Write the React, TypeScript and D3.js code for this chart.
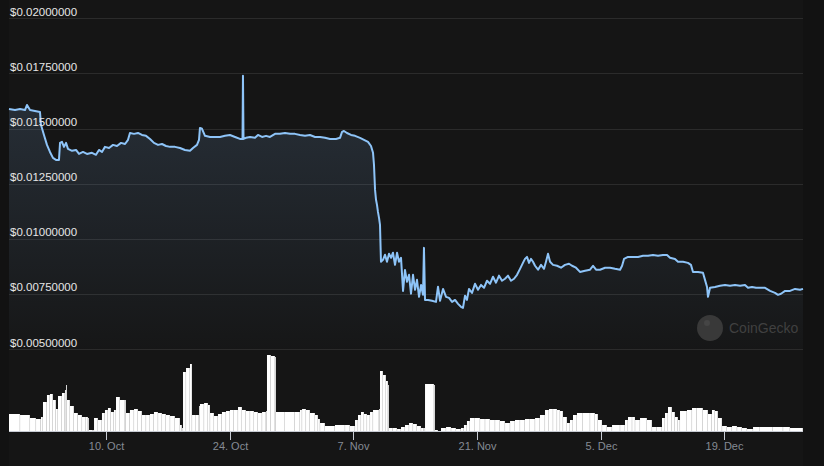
import React from "react";
import * as d3 from "d3";

const START = new Date(2022, 8, 29);

// [day offset from START, price in USD]
const PRICE: [number, number][] = [
  [0, 0.01589], [0.68, 0.01584], [1.25, 0.01589], [1.81, 0.01584], [2.04, 0.01607], [2.38, 0.01584],
  [2.94, 0.0158], [3.51, 0.01575], [3.62, 0.01517], [3.96, 0.01471], [4.3, 0.01426], [4.64, 0.01394],
  [4.98, 0.01367], [5.32, 0.01358], [5.66, 0.01358], [5.78, 0.01435], [6.0, 0.0144], [6.23, 0.01417],
  [6.46, 0.01435], [6.68, 0.01408], [7.14, 0.01399], [7.59, 0.01403], [7.93, 0.01385], [8.38, 0.01394],
  [8.83, 0.01385], [9.4, 0.0139], [9.85, 0.01381], [10.19, 0.01403], [10.53, 0.01394], [10.87, 0.01417],
  [11.33, 0.01412], [11.78, 0.01426], [12.23, 0.01421], [12.69, 0.01435], [13.14, 0.0143], [13.48, 0.01449],
  [13.7, 0.0148], [14.16, 0.01476], [14.61, 0.0148], [15.06, 0.01471], [15.52, 0.01467], [15.97, 0.01453],
  [16.42, 0.01435], [16.88, 0.01426], [17.33, 0.0143], [17.78, 0.01421], [18.24, 0.01417], [18.8, 0.01417],
  [19.37, 0.01412], [19.93, 0.01403], [20.5, 0.01399], [20.84, 0.01412], [21.29, 0.01426], [21.52, 0.01449],
  [21.63, 0.01503], [21.86, 0.01499], [22.2, 0.01467], [22.77, 0.01462], [23.33, 0.01462], [23.9, 0.01462],
  [24.46, 0.01467], [25.03, 0.01471], [25.6, 0.01462], [26.16, 0.01453], [26.45, 0.01453], [26.5, 0.01739],
  [26.56, 0.01453], [26.84, 0.01458], [27.3, 0.01462], [27.86, 0.01458], [28.2, 0.01471], [28.66, 0.01462],
  [29.11, 0.01467], [29.56, 0.01462], [30.13, 0.01476], [30.69, 0.01476], [31.26, 0.0148], [31.83, 0.01476],
  [32.39, 0.01476], [32.96, 0.01471], [33.53, 0.01467], [34.09, 0.01471], [34.66, 0.01462], [35.23, 0.01462],
  [35.79, 0.01458], [36.36, 0.01453], [37.04, 0.01453], [37.49, 0.01458], [37.72, 0.01485], [37.94, 0.01489],
  [38.28, 0.0148], [38.74, 0.01471], [39.19, 0.01467], [39.76, 0.01458], [40.21, 0.01449], [40.66, 0.0144],
  [41.0, 0.01421], [41.23, 0.0139], [41.34, 0.01335], [41.46, 0.01222], [41.57, 0.01177], [41.68, 0.01154],
  [41.79, 0.01122], [41.91, 0.01095], [42.02, 0.01063], [42.13, 0.00896], [42.36, 0.00905], [42.59, 0.00928],
  [42.81, 0.00896], [43.04, 0.00932], [43.27, 0.00914], [43.49, 0.00937], [43.72, 0.00882], [43.95, 0.00937],
  [44.17, 0.00896], [44.4, 0.00914], [44.63, 0.00764], [44.85, 0.00859], [45.08, 0.00805], [45.31, 0.00837],
  [45.53, 0.00751], [45.76, 0.00837], [45.99, 0.00769], [46.21, 0.00814], [46.44, 0.00737], [46.67, 0.00791],
  [46.89, 0.00746], [47.0, 0.00959], [47.12, 0.00723], [47.46, 0.00723], [47.91, 0.00719], [48.36, 0.00714],
  [48.59, 0.00783], [48.82, 0.00719], [49.16, 0.00773], [49.5, 0.00737], [49.84, 0.00732], [50.18, 0.00714],
  [50.52, 0.00723], [50.86, 0.00705], [51.19, 0.00692], [51.42, 0.00687], [51.65, 0.00742], [51.87, 0.00723],
  [52.1, 0.00773], [52.44, 0.00755], [52.78, 0.00796], [53.12, 0.00769], [53.46, 0.00791], [53.8, 0.00778],
  [54.14, 0.0081], [54.48, 0.00796], [54.82, 0.00828], [55.16, 0.00801], [55.5, 0.00833], [55.84, 0.0081],
  [56.18, 0.00819], [56.52, 0.00833], [56.86, 0.0081], [57.2, 0.00819], [57.54, 0.00837], [57.88, 0.00864],
  [58.21, 0.00891], [58.44, 0.00909], [58.67, 0.00918], [58.9, 0.00891], [59.12, 0.00909], [59.35, 0.00896],
  [59.58, 0.00878], [59.92, 0.0086], [60.26, 0.00882], [60.6, 0.00864], [60.82, 0.00896], [61.05, 0.00932],
  [61.28, 0.00896], [61.62, 0.00882], [62.07, 0.00878], [62.52, 0.00869], [62.97, 0.00882], [63.43, 0.00887],
  [63.77, 0.00878], [64.22, 0.00869], [64.67, 0.0085], [65.24, 0.00855], [65.81, 0.0086], [66.15, 0.00878],
  [66.49, 0.0086], [66.94, 0.0086], [67.51, 0.00869], [68.08, 0.00869], [68.64, 0.00864], [69.21, 0.0086],
  [69.44, 0.00878], [69.66, 0.00909], [70.11, 0.00918], [70.68, 0.00918], [71.25, 0.00918], [71.81, 0.00923],
  [72.38, 0.00923], [72.94, 0.00927], [73.51, 0.00923], [74.07, 0.00927], [74.53, 0.00927], [74.87, 0.00914],
  [75.43, 0.00909], [75.77, 0.00896], [76.34, 0.00896], [76.9, 0.00891], [77.24, 0.00882], [77.47, 0.0085],
  [78.04, 0.0085], [78.6, 0.00846], [78.83, 0.00814], [79.06, 0.00782], [79.17, 0.00737], [79.4, 0.00778],
  [79.96, 0.00782], [80.53, 0.00787], [81.1, 0.00791], [81.66, 0.00787], [82.23, 0.00791], [82.8, 0.00787],
  [83.36, 0.00791], [83.7, 0.00778], [84.16, 0.00782], [84.61, 0.00778], [85.06, 0.00778], [85.63, 0.00778],
  [86.2, 0.00764], [86.76, 0.00755], [87.1, 0.00746], [87.44, 0.00751], [87.9, 0.00764], [88.46, 0.00764],
  [89.03, 0.00773], [89.59, 0.00769], [89.93, 0.00773],
];

// [day offset from START, volume in thousand USD]
const VOLUME: [number, number][] = [
  [0, 170], [1.25, 160], [2.38, 130], [3.06, 120], [3.62, 140], [3.85, 290], [4.3, 360], [4.64, 370],
  [4.98, 310], [5.32, 220], [5.55, 350], [6.0, 380], [6.34, 410], [6.46, 460], [6.57, 310], [6.91, 250],
  [7.36, 180], [7.81, 160], [8.27, 140], [8.72, 140], [8.95, 130], [9.06, 10], [9.51, 10], [9.63, 130],
  [10.08, 110], [10.53, 180], [10.87, 210], [11.21, 230], [11.55, 190], [11.89, 210], [12.12, 340],
  [12.57, 310], [13.14, 310], [13.25, 180], [13.7, 210], [14.16, 220], [14.61, 200], [15.06, 160],
  [15.52, 160], [15.97, 170], [16.42, 190], [16.88, 180], [17.33, 170], [17.78, 160], [18.24, 150],
  [18.8, 130], [19.37, 60], [19.59, 30], [19.71, 590], [20.05, 630], [20.5, 670], [20.73, 160],
  [21.18, 160], [21.52, 250], [21.63, 270], [22.09, 280], [22.54, 260], [22.77, 180], [23.22, 150],
  [23.67, 170], [24.12, 190], [24.58, 200], [25.03, 210], [25.48, 210], [25.94, 240], [26.39, 210],
  [26.84, 200], [27.3, 200], [27.75, 190], [28.2, 180], [28.66, 190], [29.11, 200], [29.22, 760],
  [29.67, 750], [30.13, 740], [30.24, 190], [31.26, 190], [32.39, 190], [32.96, 210], [33.19, 220],
  [33.64, 210], [34.09, 180], [34.66, 160], [35.0, 120], [35.23, 80], [35.79, 50], [36.92, 60],
  [38.06, 60], [38.62, 50], [39.19, 110], [39.53, 160], [39.87, 190], [40.21, 170], [40.55, 160],
  [40.89, 190], [41.23, 210], [41.91, 220], [42.02, 600], [42.36, 560], [42.7, 500], [42.93, 460],
  [43.04, 30], [43.49, 30], [43.95, 20], [44.4, 40], [44.85, 60], [45.31, 80], [45.76, 70], [46.21, 50],
  [46.67, 30], [47.0, 30], [47.12, 470], [48.14, 460], [48.25, 10], [48.59, 0], [48.93, 30], [49.5, 40],
  [50.07, 30], [50.63, 20], [51.19, 30], [51.53, 60], [51.87, 100], [52.21, 130], [52.78, 130],
  [53.35, 120], [53.92, 120], [54.48, 110], [55.05, 110], [55.61, 100], [56.18, 80], [56.75, 100],
  [57.31, 110], [57.88, 110], [58.44, 120], [59.01, 120], [59.58, 130], [60.14, 160], [60.71, 210],
  [61.16, 220], [61.62, 220], [62.07, 210], [62.41, 200], [62.75, 140], [63.2, 80], [63.54, 110],
  [63.88, 160], [64.33, 180], [65.01, 180], [65.81, 180], [66.37, 170], [66.71, 110], [67.17, 60],
  [67.73, 40], [68.3, 60], [69.21, 60], [69.77, 110], [70.11, 140], [70.57, 140], [70.91, 110],
  [71.47, 130], [72.26, 110], [72.83, 40], [73.39, 40], [73.96, 130], [74.3, 180], [74.64, 240],
  [75.09, 190], [75.43, 140], [75.77, 110], [76.0, 200], [76.79, 210], [77.36, 230], [77.92, 230],
  [78.6, 210], [79.17, 170], [79.62, 210], [79.96, 200], [80.3, 130], [80.76, 50], [81.32, 40],
  [81.89, 50], [82.46, 40], [83.02, 30], [83.59, 20], [84.27, 40], [85.06, 40], [86.53, 40],
  [87.67, 40], [88.46, 30], [89.93, 30],
];

const PRICE_TICKS = [0.005, 0.0075, 0.01, 0.0125, 0.015, 0.0175, 0.02];
const DATE_TICKS = ["2022-10-10", "2022-10-24", "2022-11-07", "2022-11-21", "2022-12-05", "2022-12-19"];

const W = 824;
const H = 466;

const toDate = (d: number) => new Date(START.getTime() + d * 864e5);

export default function App() {
  const x0 = 9;
  const x1 = 803;
  const x = d3
    .scaleTime()
    .domain([START, toDate(PRICE[PRICE.length - 1][0])])
    .range([x0, x1]);
  const y = d3.scaleLinear().domain([0.005, 0.02]).range([349.1, 18.3]);
  const yv = d3.scaleLinear().domain([0, 850]).range([431, 346]);

  const line = d3
    .line<[number, number]>()
    .x((d) => x(toDate(d[0])))
    .y((d) => y(d[1]));
  const area = d3
    .area<[number, number]>()
    .x((d) => x(toDate(d[0])))
    .y0(y(0.005))
    .y1((d) => y(d[1]));

  const maxP = d3.max(PRICE, (d) => d[1]) as number;
  const fmtDate = d3.timeFormat("%-d. %b");
  const parse = d3.timeParse("%Y-%m-%d");

  const bars = VOLUME.slice(0, -1).map((d, i) => {
    const xa = x(toDate(d[0]));
    const xb = x(toDate(VOLUME[i + 1][0]));
    return { x: xa, w: Math.max(0.3, xb - xa - 0.15), y: yv(d[1]), h: yv(0) - yv(d[1]) };
  });

  return (
    <svg
      width={W}
      height={H}
      style={{ position: "fixed", left: 0, top: 0, display: "block" }}
      fontFamily="'Liberation Sans', Arial, sans-serif"
    >
      <defs>
        <linearGradient id="pg" gradientUnits="userSpaceOnUse" x1="0" x2="0" y1={y(maxP)} y2={y(0.005)}>
          <stop offset="0" stopColor="#8dc1fb" stopOpacity={0.16} />
          <stop offset="1" stopColor="#8dc1fb" stopOpacity={0.01} />
        </linearGradient>
      </defs>
      <rect x={0} y={0} width={W} height={H} fill="#121212" />
      <rect x={x0} y={0} width={x1 - x0} height={H} fill="#151515" />

      {PRICE_TICKS.map((t) => (
        <line key={t} x1={x0} x2={x1} y1={Math.round(y(t)) + 0.5} y2={Math.round(y(t)) + 0.5} stroke="#2b2b2b" strokeWidth={1} />
      ))}

      <path d={area(PRICE) as string} fill="url(#pg)" />
      <path d={line(PRICE) as string} fill="none" stroke="#8ec4f8" strokeWidth={2} strokeLinejoin="round" />

      {PRICE_TICKS.map((t) => (
        <text key={t} x={10} y={y(t) - 2.5} fontSize={11.5} fill="#e6e6e6">
          {"$" + t.toFixed(8)}
        </text>
      ))}

      {bars.map((b, i) => (
        <rect key={i} x={b.x} y={b.y} width={b.w} height={b.h} fill="#ffffff" />
      ))}
      <line x1={x0} x2={x1} y1={431.5} y2={431.5} stroke="#c8ccd4" strokeWidth={1} />

      {DATE_TICKS.map((s) => {
        const dt = parse(s) as Date;
        const px = Math.round(x(dt)) + 0.5;
        return (
          <g key={s}>
            <line x1={px} x2={px} y1={432} y2={440} stroke="#c8ccd4" strokeWidth={1} />
            <text x={px} y={450} fontSize={11} fill="#858b94" textAnchor="middle">
              {fmtDate(dt)}
            </text>
          </g>
        );
      })}

      <g opacity={0.9}>
        <circle cx={710} cy={328} r={13} fill="#3d3d3d" />
        <circle cx={707} cy={323} r={3} fill="#4a4a4a" />
        <text x={729} y={333} fontSize={14} fill="#454545">
          CoinGecko
        </text>
      </g>
    </svg>
  );
}
